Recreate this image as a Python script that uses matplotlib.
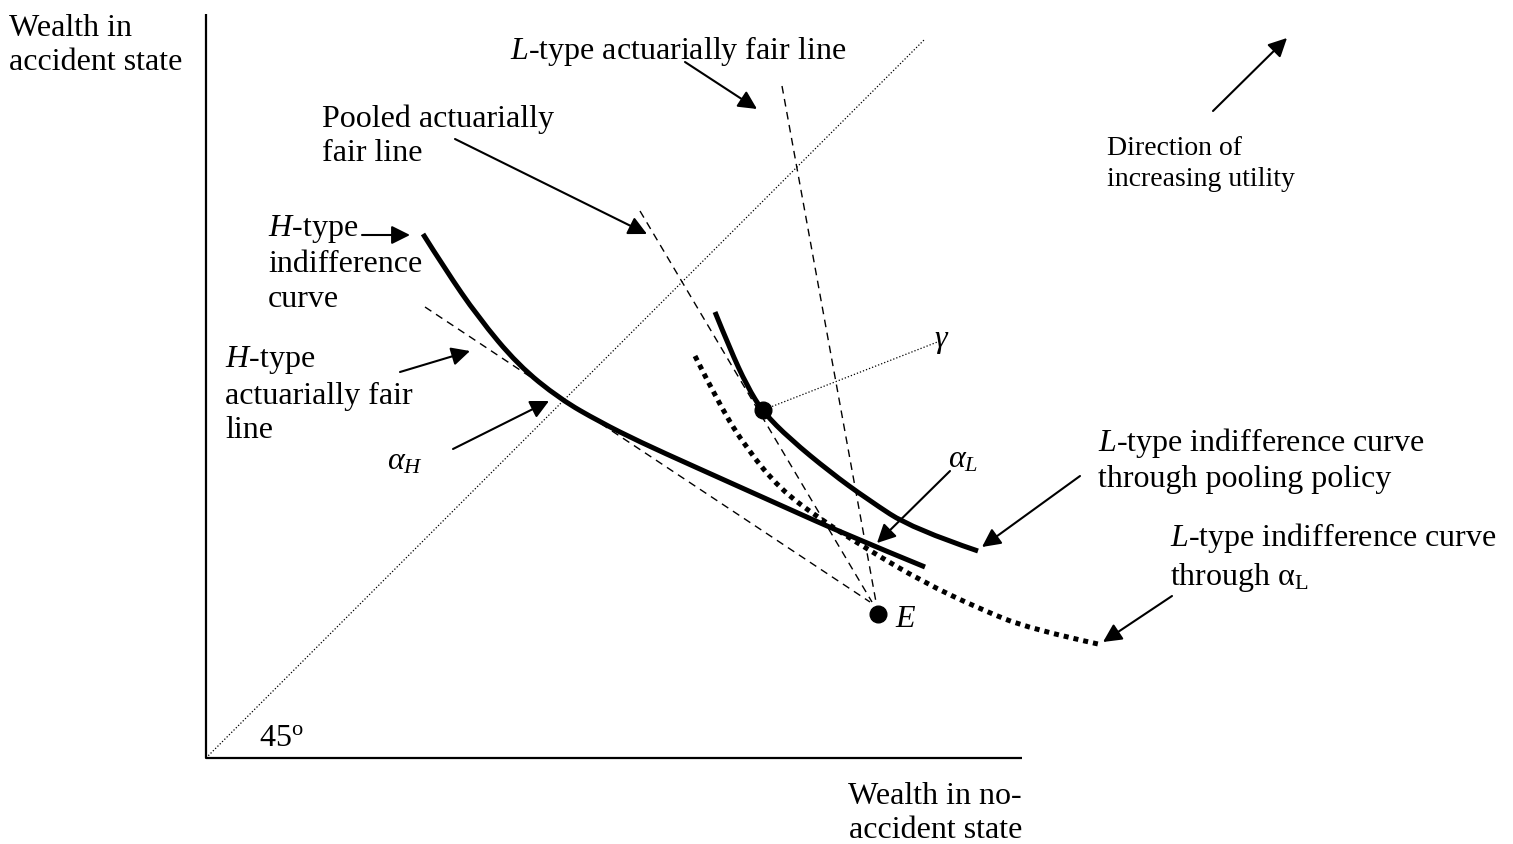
import matplotlib
matplotlib.use("Agg")
import matplotlib.pyplot as plt
from matplotlib.path import Path
from matplotlib.patches import PathPatch

plt.rcParams['font.family'] = ['Liberation Serif', 'DejaVu Serif']
plt.rcParams['mathtext.fontset'] = 'custom'
plt.rcParams['mathtext.rm'] = 'Liberation Serif'
plt.rcParams['mathtext.it'] = 'Liberation Serif:italic'

# points (pixel space, y down)
axis_x = [206, 206, 1022]
axis_y = [15, 759, 759]

line45_x = [206, 925]
line45_y = [759, 40]

h_ic_x = [423, 445, 478, 518, 560, 600, 640, 693, 780, 847, 925]
h_ic_y = [235, 270, 318, 366, 400, 423, 443, 467, 506, 536, 568]

l_pool_x = [715, 730, 747, 763, 790, 830, 867, 913, 978]
l_pool_y = [313, 350, 387, 413, 440, 473, 500, 530, 552]

l_alpha_x = [695, 720, 747, 780, 820, 867, 923, 980, 1030, 1098]
l_alpha_y = [357, 407, 450, 490, 520, 550, 583, 610, 630, 645]

E = (878, 615)
gamma_pt = (763, 411)
gamma_end = (940, 342)

# actuarially fair lines: top end, they all meet near E
fair_top_x = [782, 640, 425]
fair_top_y = [87, 212, 308]
fair_bot_x = [876, 872, 870]
fair_bot_y = [603, 603, 603]

# label arrows: tail -> head
arrows = [
    ((685, 63), (757, 110)),
    ((455, 140), (647, 235)),
    ((362, 236), (410, 236)),
    ((400, 373), (470, 352)),
    ((453, 450), (549, 402)),
    ((950, 472), (877, 544)),
    ((1080, 477), (982, 548)),
    ((1172, 597), (1103, 643)),
    ((1213, 112), (1287, 39)),
]

labels = [
    (9, 13, "Wealth in\naccident state", 23),
    (510, 33, "$L$-type actuarially fair line", 23),
    (322, 103, "Pooled actuarially\nfair line", 23),
    (268, 212, "$H$-type\nindifference\ncurve", 23),
    (225, 343, "$H$-type\nactuarially fair\nline", 23),
    (1098, 425, "$L$-type indifference curve\nthrough pooling policy", 23),
    (1170, 520, "$L$-type indifference curve\nthrough α$_{\\mathrm{L}}$", 23),
    (259, 723, "45$^{\\mathrm{o}}$", 23),
]


def smooth_path(xs, ys):
    # quadratic bezier chain, the read points act as control points
    pts = list(zip(xs, ys))
    verts = [pts[0]]
    codes = [Path.MOVETO]
    for i in range(1, len(pts) - 1):
        nxt = pts[i + 1] if i == len(pts) - 2 else (
            (pts[i][0] + pts[i + 1][0]) / 2, (pts[i][1] + pts[i + 1][1]) / 2)
        verts += [pts[i], nxt]
        codes += [Path.CURVE3, Path.CURVE3]
    return Path(verts, codes)


fig = plt.figure(figsize=(15.13, 8.45), dpi=100)
ax = fig.add_axes([0, 0, 1, 1])
ax.set_xlim(0, 1513)
ax.set_ylim(845, 0)
ax.axis('off')

ax.plot(axis_x, axis_y, color='k', lw=1.6, solid_capstyle='butt')
ax.plot(line45_x, line45_y, color='k', lw=0.9, linestyle=(0, (1, 1.6)))
ax.plot([gamma_pt[0], gamma_end[0]], [gamma_pt[1], gamma_end[1]],
        color='k', lw=0.9, linestyle=(0, (1, 1.6)))

for i in range(3):
    ax.plot([fair_top_x[i], fair_bot_x[i]], [fair_top_y[i], fair_bot_y[i]],
            color='k', lw=1.0, linestyle=(0, (5.5, 4)))

ax.add_patch(PathPatch(smooth_path(h_ic_x, h_ic_y), fill=False, ec='k',
                       lw=3.6, capstyle='butt'))
ax.add_patch(PathPatch(smooth_path(l_pool_x, l_pool_y), fill=False, ec='k',
                       lw=3.6, capstyle='butt'))
ax.add_patch(PathPatch(smooth_path(l_alpha_x, l_alpha_y), fill=False, ec='k',
                       lw=3.6, linestyle=(0, (1, 1))))

ax.plot(*E, 'o', color='k', ms=12)
ax.plot(*gamma_pt, 'o', color='k', ms=12)

for tail, head in arrows:
    ax.annotate("", xy=head, xytext=tail,
                arrowprops=dict(arrowstyle='-|>', color='k', lw=1.5,
                                mutation_scale=28, shrinkA=0, shrinkB=0))

for x, y, s, fs in labels:
    ax.text(x, y + 1, s, fontsize=fs, ha='left', va='top', linespacing=1.25)

ax.text(1107, 136, "Direction of\nincreasing utility", fontsize=20,
        ha='left', va='top', linespacing=1.33)
ax.text(1022, 782, "Wealth in no-\naccident state", fontsize=23,
        ha='right', va='top', multialignment='right', linespacing=1.25)
ax.text(387, 462, r"$\alpha_H$", fontsize=23, ha='left', va='center')
ax.text(948, 460, r"$\alpha_L$", fontsize=23, ha='left', va='center')
ax.text(934, 342, r"$\gamma$", fontsize=23, ha='left', va='center')
ax.text(895, 620, r"$E$", fontsize=23, ha='left', va='center')

fig.savefig("out.png", dpi=100)
